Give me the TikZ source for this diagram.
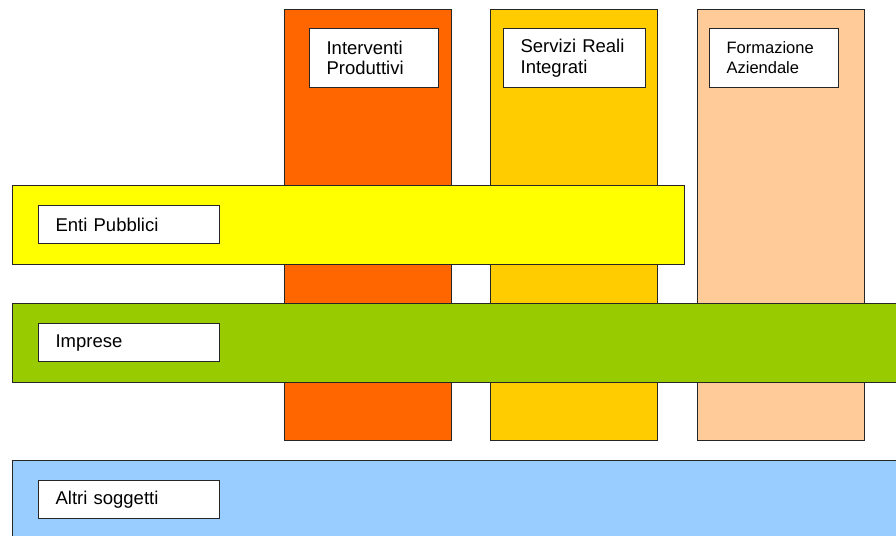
\documentclass[tikz,border=0pt]{standalone}
\usepackage{fontspec}
\setmainfont{Liberation Sans}
\usepackage{tikz}
\usetikzlibrary{positioning}

\definecolor{orangeIP}{HTML}{FF6600}
\definecolor{goldSR}{HTML}{FFCC00}
\definecolor{peachFA}{HTML}{FFCC99}
\definecolor{yellowEP}{HTML}{FFFF00}
\definecolor{greenIM}{HTML}{99CC00}
\definecolor{blueAS}{HTML}{99CCFF}

\begin{document}
\begin{tikzpicture}[x=1pt, y=-1pt]
\tikzstyle{every node}=[draw=black!85, line width=1.2pt, inner sep=0pt,
                        anchor=north west]
\tikzstyle{column}=[minimum width=167pt, minimum height=431pt]
\tikzstyle{band}=[minimum height=79pt]
\tikzstyle{toplabel}=[fill=white, minimum width=129pt, minimum height=59pt,
                      text width=95pt, inner xsep=17pt, align=left,
                      font=\fontsize{18.5}{20.5}\selectfont]
\tikzstyle{sidelabel}=[fill=white, minimum width=181pt, minimum height=38pt,
                       text width=147pt, inner xsep=17pt, align=left,
                       font=\fontsize{18.5}{20.5}\selectfont]
\useasboundingbox (0,0) rectangle (896,535);
% columns
\node[column, fill=orangeIP] (IP) at (284,9) {};
\node[column, fill=goldSR] (SR) at (490,9) {};
\node[column, fill=peachFA] (FA) at (697,9) {};
\node[toplabel] (IPtxt) at (309,28) {Interventi\\Produttivi};
\node[toplabel, minimum width=142pt, text width=108pt] (SRtxt) at (503,28) {Servizi Reali\\Integrati};
\node[toplabel, font=\fontsize{16.5}{20}\selectfont] (FAtxt) at (709,28) {Formazione\\Aziendale};
% bands
\node[band, fill=yellowEP, minimum width=672pt] (EP) at (12,185) {};
\node[sidelabel] (EPtxt) at (38,205) {Enti Pubblici};
\node[band, fill=greenIM, minimum width=900pt] (IM) at (12,303) {};
\node[sidelabel] (IMtxt) at (38,323) {Imprese};
\node[band, fill=blueAS, minimum width=900pt, minimum height=90pt] (AS) at (12,460) {};
\node[sidelabel] (AStxt) at (38,480) {Altri soggetti};
\end{tikzpicture}
\end{document}
